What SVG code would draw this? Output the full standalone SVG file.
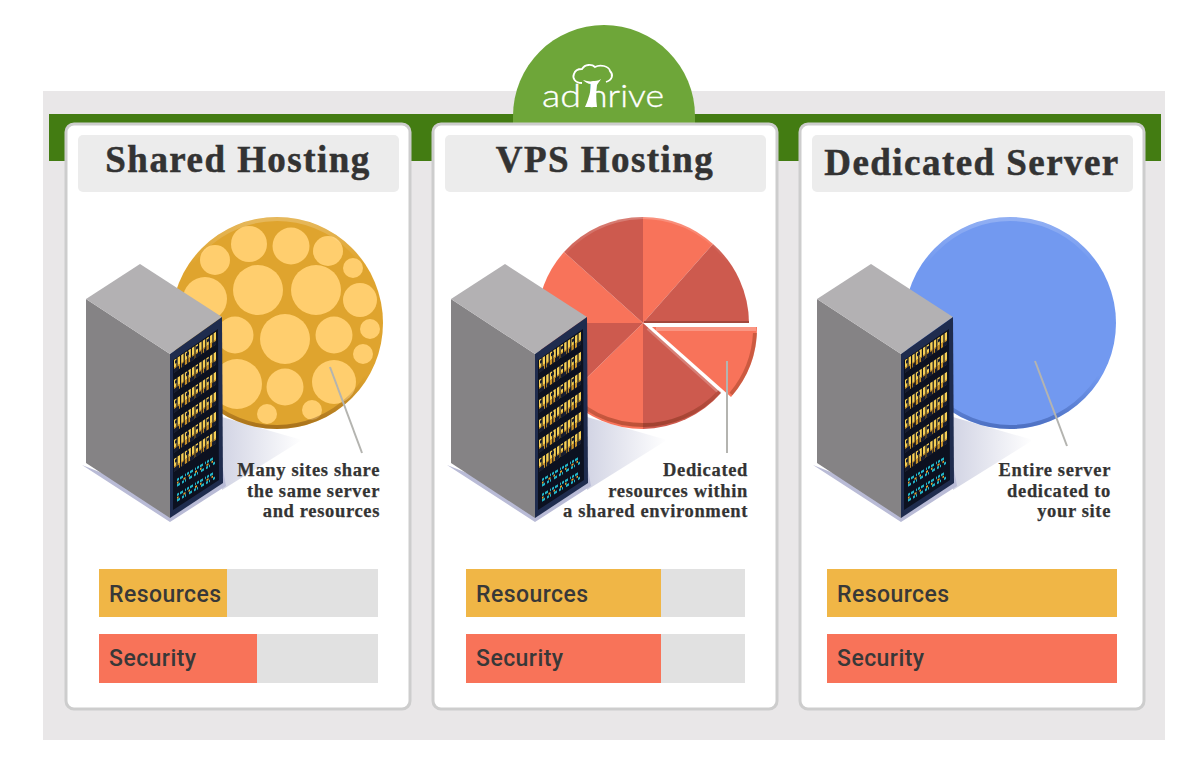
<svg xmlns="http://www.w3.org/2000/svg" xmlns:xlink="http://www.w3.org/1999/xlink" width="1200" height="774" viewBox="0 0 1200 774">
<style>
.card{fill:#fff;stroke:#cdcdcd;stroke-width:3}
.head{fill:#ececec}
.title{font-family:"Liberation Serif",serif;font-weight:700;font-size:37px;fill:#333;stroke:#333;stroke-width:.5px;text-anchor:middle;letter-spacing:1.45px}
.note{font-family:"Liberation Serif",serif;font-weight:700;font-size:18.5px;fill:#333;stroke:#333;stroke-width:.25px;text-anchor:end;letter-spacing:.65px}
.bar{font-family:Roboto,sans-serif;font-weight:500;font-size:23px;fill:#383838;letter-spacing:.45px}
.track{fill:#e1e1e1}.res{fill:#f0b646}.sec{fill:#f87359}
.lead{stroke:#b4b4b0;stroke-width:2;fill:none}
.light{fill:#f8735a}.dark{fill:#cd5a4e}
.logo{font-family:Lato,sans-serif;font-weight:300;font-size:32px;fill:#fff;stroke:#fff;stroke-width:.35px}
</style>
<defs>
<linearGradient id="bevel" x1="0" y1="0" x2="0" y2="1">
<stop offset="0" stop-color="#fff" stop-opacity=".22"/><stop offset=".22" stop-color="#fff" stop-opacity="0"/>
<stop offset=".75" stop-color="#5a2a00" stop-opacity="0"/><stop offset="1" stop-color="#5a2a00" stop-opacity=".4"/>
</linearGradient>
<linearGradient id="bevelB" x1="0" y1="0" x2="0" y2="1">
<stop offset="0" stop-color="#fff" stop-opacity=".22"/><stop offset=".22" stop-color="#fff" stop-opacity="0"/>
<stop offset=".75" stop-color="#22408a" stop-opacity="0"/><stop offset="1" stop-color="#22408a" stop-opacity=".45"/>
</linearGradient>
<linearGradient id="bevelP" gradientUnits="userSpaceOnUse" x1="0" y1="217" x2="0" y2="429">
<stop offset="0" stop-color="#fff" stop-opacity=".22"/><stop offset=".22" stop-color="#fff" stop-opacity="0"/>
<stop offset=".7" stop-color="#5a1a00" stop-opacity="0"/><stop offset="1" stop-color="#5a1a00" stop-opacity=".4"/>
</linearGradient>
<linearGradient id="floor" x1="0" y1="0" x2="1" y2="0">
<stop offset="0" stop-color="#d2d4e4"/><stop offset="1" stop-color="#fff"/>
</linearGradient>
<g id="ledY">
<line x1="0" y1="4" x2="42" y2="4" stroke="#f6cf55" stroke-width="8" stroke-dasharray="2.400 1.200"/>
<line x1="1" y1="3" x2="42" y2="3" stroke="#161c30" stroke-width="3" stroke-dasharray="2 9 3 7"/>
<line x1="0" y1="10" x2="42" y2="10" stroke="#c8922a" stroke-width="5" stroke-dasharray="2.400 1.200"/>
<line x1="0" y1="11" x2="42" y2="11" stroke="#161c30" stroke-width="4" stroke-dasharray="5 3 2 6 4 2"/>
</g>
<g id="ledC">
<line x1="0" y1="3" x2="38" y2="3" stroke="#22b5c8" stroke-width="2.500" stroke-dasharray="2 1 3 2 1 1"/>
<line x1="0" y1="6" x2="38" y2="6" stroke="#e0a030" stroke-width="2" stroke-dasharray="1.500 5 2 3"/>
<line x1="0" y1="8.500" x2="38" y2="8.500" stroke="#22b5c8" stroke-width="2.500" stroke-dasharray="3 2 2 1 1 3"/>
</g>
<g id="server">
<polygon points="82,465 170,522 226,486 223,470 170,500" fill="#b9bbd6"/>
<polygon points="86,299 170,354 170,518 86,463" fill="#858385"/>
<polygon points="140,264 222,317 170,354 86,299" fill="#b3b1b3"/>
<polygon points="170,354 222,317 223,483 170,518" fill="#1f2c4e"/>
<polygon points="173,360 218,329 219,480 173,510" fill="#0c1120"/>
<use xlink:href="#ledY" href="#ledY" transform="matrix(1,-.67,0,1,174,360)"/>
<use xlink:href="#ledY" href="#ledY" transform="matrix(1,-.67,0,1,174,380)"/>
<use xlink:href="#ledY" href="#ledY" transform="matrix(1,-.67,0,1,174,400)"/>
<use xlink:href="#ledY" href="#ledY" transform="matrix(1,-.67,0,1,174,420)"/>
<use xlink:href="#ledY" href="#ledY" transform="matrix(1,-.67,0,1,174,440)"/>
<use xlink:href="#ledY" href="#ledY" transform="matrix(1,-.67,0,1,174,459)"/>
<use xlink:href="#ledC" href="#ledC" transform="matrix(1,-.6,0,1,177,477)"/>
<use xlink:href="#ledC" href="#ledC" transform="matrix(1,-.6,0,1,177,492)"/>
</g>
<polygon id="floorS" points="222,417 302,440 222,490" fill="url(#floor)"/>
</defs>

<rect id="backdrop" x="43" y="91" width="1122" height="649" fill="#e9e7e8"/>
<rect id="band" x="49" y="114" width="1112" height="47" fill="#437c12"/>

<g id="logo">
<path d="M513 123V116A91 91 0 0 1 695 116V123Z" fill="#6ea639"/>
<text class="logo" x="542" y="107" textLength="39" lengthAdjust="spacingAndGlyphs">ad</text>
<text class="logo" x="588" y="107" textLength="76" lengthAdjust="spacingAndGlyphs">hrive</text>
<path d="M585 107C589 98 591 90 591 84C588 84 585 82 583 80C587 81 590 82 593 81C595 81 598 81 601 79C600 81 598 83 597 85C596 92 596 100 597 107Z" fill="#fff"/>
<path d="M582 83C575 83 572 78 574 74C575 70 579 69 582 69C585 64 592 64 595 67C600 64 609 66 610 71C614 75 612 80 606 82" fill="none" stroke="#fff" stroke-width="1.800"/>
</g>

<g id="card-shared">
<rect class="card" x="66" y="124" width="344" height="585" rx="8"/>
<rect class="head" x="78" y="135" width="321" height="57" rx="5"/>
<text class="title" x="238" y="172">Shared Hosting</text>
<use xlink:href="#floorS" href="#floorS"/>
<circle cx="277" cy="323" r="106" fill="#dfa42e"/>
<g fill="#ffce6e">
<circle cx="249" cy="244" r="18"/><circle cx="291" cy="246" r="18.500"/><circle cx="328" cy="251" r="15"/>
<circle cx="215" cy="260" r="15"/><circle cx="353" cy="268" r="10"/><circle cx="258" cy="290" r="25"/>
<circle cx="316" cy="290" r="25"/><circle cx="205" cy="299" r="22"/><circle cx="360" cy="300" r="17"/>
<circle cx="285" cy="339" r="25"/><circle cx="334" cy="335" r="18.500"/><circle cx="235" cy="335" r="18.500"/>
<circle cx="370" cy="329" r="10"/><circle cx="363" cy="354" r="10"/><circle cx="237" cy="384" r="25"/>
<circle cx="285" cy="387" r="18.500"/><circle cx="334" cy="382" r="22"/><circle cx="267" cy="414" r="10"/>
<circle cx="312" cy="410" r="10"/>
</g>
<circle cx="277" cy="323" r="104" fill="none" stroke="url(#bevel)" stroke-width="4"/>
<use xlink:href="#server" href="#server"/>
<text class="note" x="380" y="476">Many sites share</text>
<text class="note" x="380" y="497">the same server</text>
<text class="note" x="380" y="517">and resources</text>
<rect class="track" x="99" y="569" width="279" height="48"/>
<rect class="res" x="99" y="569" width="128" height="48"/>
<text class="bar" x="109" y="602">Resources</text>
<rect class="track" x="99" y="634" width="279" height="49"/>
<rect class="sec" x="99" y="634" width="158" height="49"/>
<text class="bar" x="109" y="666">Security</text>
</g>

<g id="card-vps">
<rect class="card" x="433" y="124" width="344" height="585" rx="8"/>
<rect class="head" x="445" y="135" width="321" height="57" rx="5"/>
<text class="title" x="605" y="172">VPS Hosting</text>
<use xlink:href="#floorS" href="#floorS" transform="translate(365 0)"/>
<path class="light" d="M643 323V217A106 106 0 0 1 713 244Z"/>
<path class="dark" d="M643 323L713 244A106 106 0 0 1 749 323Z"/>
<path class="dark" d="M643 323L721 393A106 106 0 0 1 643 429Z"/>
<path class="light" d="M643 323V429A106 106 0 0 1 567 397Z"/>
<path class="dark" d="M643 323L567 397A106 106 0 0 1 537 323Z"/>
<path class="light" d="M643 323H537A106 106 0 0 1 564 252Z"/>
<path class="dark" d="M643 323L564 252A106 106 0 0 1 643 217Z"/>
<path d="M720 391A104 104 0 1 1 747 323" fill="none" stroke="url(#bevelP)" stroke-width="4"/>
<path d="M644 322H749" stroke="#a3473c" stroke-width="2" fill="none"/>
<path d="M648 328L718 391" stroke="#fff" stroke-opacity=".22" stroke-width="4" fill="none"/>
<path class="light" d="M652 327H757A105 105 0 0 1 731 397Z"/>
<path d="M656 329H756" stroke="#fff" stroke-opacity=".25" stroke-width="4" fill="none"/>
<path d="M755 333A103 103 0 0 1 731 394" stroke="#7a2a10" stroke-opacity=".35" stroke-width="4" fill="none"/>
<use xlink:href="#server" href="#server" transform="translate(365 0)"/>
<text class="note" x="748" y="476">Dedicated</text>
<text class="note" x="748" y="497">resources within</text>
<text class="note" x="748" y="517">a shared environment</text>
<rect class="track" x="466" y="569" width="279" height="48"/>
<rect class="res" x="466" y="569" width="195" height="48"/>
<text class="bar" x="476" y="602">Resources</text>
<rect class="track" x="466" y="634" width="279" height="49"/>
<rect class="sec" x="466" y="634" width="195" height="49"/>
<text class="bar" x="476" y="666">Security</text>
</g>

<g id="card-dedicated">
<rect class="card" x="800" y="124" width="344" height="585" rx="8"/>
<rect class="head" x="812" y="135" width="321" height="57" rx="5"/>
<text class="title" x="972" y="175">Dedicated Server</text>
<use xlink:href="#floorS" href="#floorS" transform="translate(731 0)"/>
<circle cx="1010" cy="323" r="106" fill="#7299f0"/>
<circle cx="1010" cy="323" r="104" fill="none" stroke="url(#bevelB)" stroke-width="4"/>
<use xlink:href="#server" href="#server" transform="translate(731 0)"/>
<text class="note" x="1111" y="476">Entire server</text>
<text class="note" x="1111" y="497">dedicated to</text>
<text class="note" x="1111" y="517">your site</text>
<rect class="res" x="827" y="569" width="290" height="48"/>
<text class="bar" x="837" y="602">Resources</text>
<rect class="sec" x="827" y="634" width="290" height="49"/>
<text class="bar" x="837" y="666">Security</text>
</g>

<g id="connectors">
<line class="lead" x1="330" y1="367" x2="362" y2="453"/>
<line class="lead" x1="727" y1="361" x2="727" y2="453"/>
<line class="lead" x1="1035" y1="361" x2="1067" y2="446"/>
</g>
</svg>
